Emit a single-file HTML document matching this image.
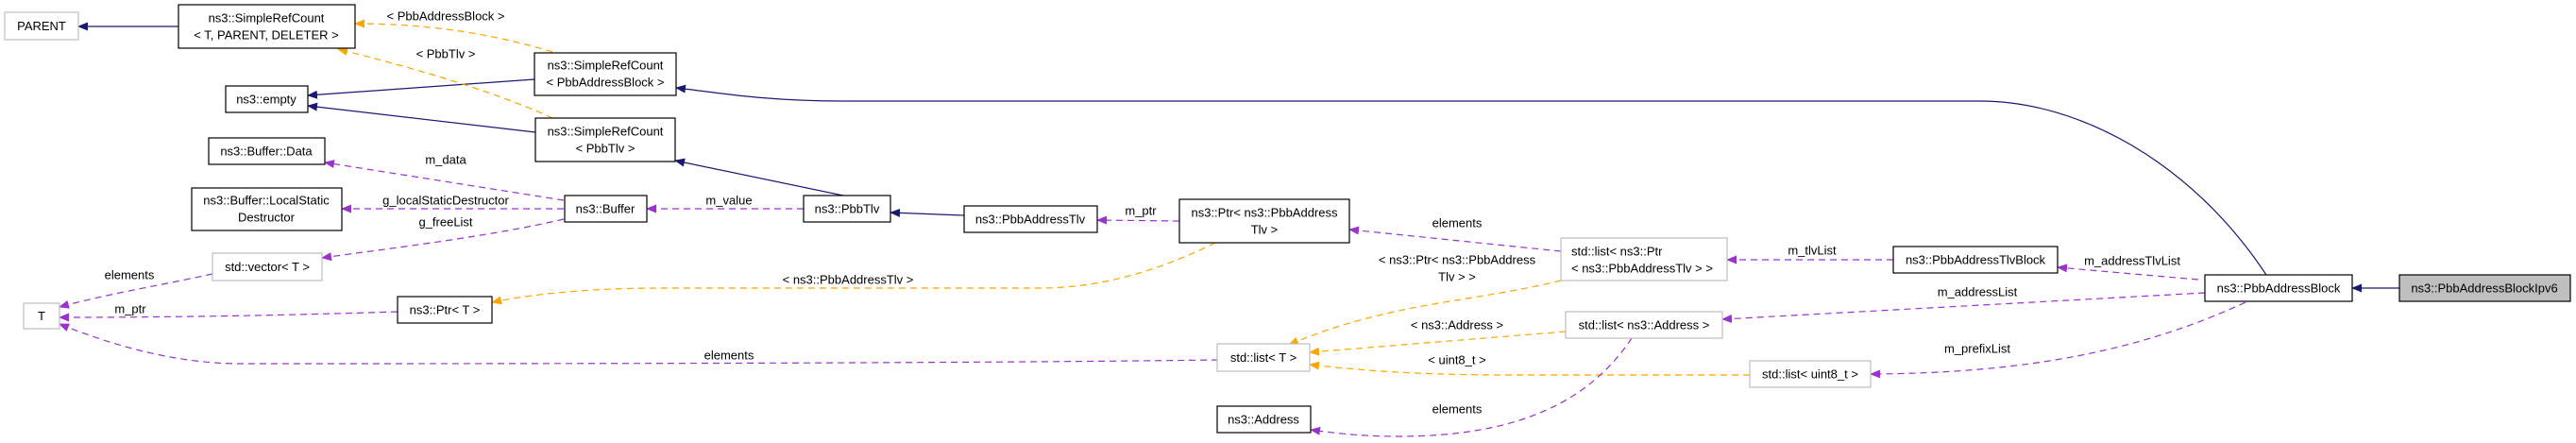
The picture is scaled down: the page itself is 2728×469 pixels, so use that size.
<!DOCTYPE html>
<html><head><meta charset="utf-8"><style>
html,body{margin:0;padding:0;background:#fff;}
svg{display:block;}
text{font-family:"Liberation Sans",sans-serif;font-size:13px;fill:#000;}
</style></head><body>
<svg width="2728" height="469" viewBox="0 0 2728 469" xmlns="http://www.w3.org/2000/svg">
<defs>
<marker id="an" markerWidth="11" markerHeight="9" refX="10" refY="4.5" orient="auto" markerUnits="userSpaceOnUse"><path d="M0,0 L11,4.5 L0,9 Z" fill="#191970"/></marker>
<marker id="ap" markerWidth="11" markerHeight="9" refX="10" refY="4.5" orient="auto" markerUnits="userSpaceOnUse"><path d="M0,0 L11,4.5 L0,9 Z" fill="#9a32cd"/></marker>
<marker id="ao" markerWidth="11" markerHeight="9" refX="10" refY="4.5" orient="auto" markerUnits="userSpaceOnUse"><path d="M0,0 L11,4.5 L0,9 Z" fill="#ffa500"/></marker>
</defs>
<g fill="none" stroke-width="1.2">
<!-- navy inheritance -->
<g stroke="#191970" marker-end="url(#an)">
<path d="M189,28 L83,28"/>
<path d="M566,84 L326,101"/>
<path d="M567,140 L326,112"/>
<path d="M893,207 L715,170"/>
<path d="M1021,228 L943,225"/>
<path d="M2400,291 C2320,170 2200,107 2097,107 L890,107 C810,107 760,98 716,93"/>
<path d="M2541,305 L2491,305"/>
</g>
<!-- orange template -->
<g stroke="#ffa500" stroke-dasharray="7,5" marker-end="url(#ao)">
<path d="M585,55 C520,35 450,25 376,25"/>
<path d="M585,125 C520,95 430,70 358,52"/>
<path d="M1287,257 C1220,290 1160,305 1100,305 L700,305 C620,305 560,312 521,320"/>
<path d="M1653,297 C1560,320 1470,320 1365,365"/>
<path d="M1658,351 L1387,373"/>
<path d="M1853,397 L1600,397 C1500,397 1440,392 1387,386"/>
</g>
<!-- purple usage -->
<g stroke="#9a32cd" stroke-dasharray="7,5" marker-end="url(#ap)">
<path d="M851,221 L685,221"/>
<path d="M597,212 L344,172"/>
<path d="M597,221 L362,221"/>
<path d="M597,232 C520,250 420,262 341,273"/>
<path d="M225,290 C170,302 110,312 63,325"/>
<path d="M421,330 C300,334 180,336 63,336"/>
<path d="M1290,381 C1000,385 500,385 255,385 C180,385 110,362 63,343"/>
<path d="M1249,234 L1162,233"/>
<path d="M1653,266 L1429,243"/>
<path d="M1728,358 C1680,430 1600,462 1480,462 C1440,462 1410,458 1388,455"/>
<path d="M2005,275 L1829,275"/>
<path d="M2328,296 L2179,283"/>
<path d="M2335,310 L1824,338"/>
<path d="M2378,320 C2270,370 2150,395 1981,396"/>
</g>
</g>
<!-- boxes -->
<g stroke-width="1.2">
<rect x="5" y="13" width="78" height="29" fill="#fff" stroke="#bfbfbf"/>
<rect x="189" y="5" width="187" height="46" fill="#fff" stroke="#000"/>
<rect x="239" y="91" width="87" height="28" fill="#fff" stroke="#000"/>
<rect x="566" y="56" width="150" height="45" fill="#fff" stroke="#000"/>
<rect x="567" y="125" width="148" height="46" fill="#fff" stroke="#000"/>
<rect x="221" y="146" width="123" height="28" fill="#fff" stroke="#000"/>
<rect x="203" y="199" width="159" height="45" fill="#fff" stroke="#000"/>
<rect x="598" y="207" width="87" height="28" fill="#fff" stroke="#000"/>
<rect x="225" y="268" width="116" height="29" fill="#fff" stroke="#bfbfbf"/>
<rect x="25" y="321" width="38" height="27" fill="#fff" stroke="#bfbfbf"/>
<rect x="421" y="314" width="100" height="28" fill="#fff" stroke="#000"/>
<rect x="851" y="207" width="92" height="28" fill="#fff" stroke="#000"/>
<rect x="1021" y="218" width="141" height="28" fill="#fff" stroke="#000"/>
<rect x="1249" y="211" width="180" height="46" fill="#fff" stroke="#000"/>
<rect x="1289" y="364" width="98" height="29" fill="#fff" stroke="#bfbfbf"/>
<rect x="1289" y="430" width="99" height="28" fill="#fff" stroke="#000"/>
<rect x="1653" y="252" width="176" height="45" fill="#fff" stroke="#bfbfbf"/>
<rect x="1658" y="330" width="166" height="28" fill="#fff" stroke="#bfbfbf"/>
<rect x="1853" y="382" width="128" height="28" fill="#fff" stroke="#bfbfbf"/>
<rect x="2005" y="261" width="174" height="28" fill="#fff" stroke="#000"/>
<rect x="2335" y="291" width="156" height="28" fill="#fff" stroke="#000"/>
<rect x="2541" y="291" width="181" height="28" fill="#bfbfbf" stroke="#000"/>
</g>
<!-- box text -->
<g text-anchor="middle" dominant-baseline="central">
<text x="44" y="27.5">PARENT</text>
<text x="282" y="19">ns3::SimpleRefCount</text>
<text x="282" y="37">&lt; T, PARENT, DELETER &gt;</text>
<text x="282" y="105">ns3::empty</text>
<text x="641" y="69">ns3::SimpleRefCount</text>
<text x="641" y="87">&lt; PbbAddressBlock &gt;</text>
<text x="641" y="139">ns3::SimpleRefCount</text>
<text x="641" y="157">&lt; PbbTlv &gt;</text>
<text x="282" y="160">ns3::Buffer::Data</text>
<text x="282" y="212">ns3::Buffer::LocalStatic</text>
<text x="282" y="230">Destructor</text>
<text x="641" y="221">ns3::Buffer</text>
<text x="283" y="282.5">std::vector&lt; T &gt;</text>
<text x="44" y="334.5">T</text>
<text x="471" y="328">ns3::Ptr&lt; T &gt;</text>
<text x="897" y="221">ns3::PbbTlv</text>
<text x="1091" y="232">ns3::PbbAddressTlv</text>
<text x="1339" y="225">ns3::Ptr&lt; ns3::PbbAddress</text>
<text x="1339" y="243">Tlv &gt;</text>
<text x="1338" y="378.5">std::list&lt; T &gt;</text>
<text x="1338" y="444">ns3::Address</text>
<text x="1741" y="344">std::list&lt; ns3::Address &gt;</text>
<text x="1917" y="396">std::list&lt; uint8_t &gt;</text>
<text x="2092" y="275">ns3::PbbAddressTlvBlock</text>
<text x="2413" y="305">ns3::PbbAddressBlock</text>
<text x="2631" y="305">ns3::PbbAddressBlockIpv6</text>
</g>
<g dominant-baseline="central">
<text x="1664" y="266">std::list&lt; ns3::Ptr</text>
<text x="1664" y="284">&lt; ns3::PbbAddressTlv &gt; &gt;</text>
</g>
<!-- edge labels -->
<g text-anchor="middle" dominant-baseline="central">
<text x="472" y="17">&lt; PbbAddressBlock &gt;</text>
<text x="472" y="57">&lt; PbbTlv &gt;</text>
<text x="472" y="169">m_data</text>
<text x="472" y="212">g_localStaticDestructor</text>
<text x="472" y="235">g_freeList</text>
<text x="772" y="212">m_value</text>
<text x="137" y="291">elements</text>
<text x="138" y="327">m_ptr</text>
<text x="898" y="296">&lt; ns3::PbbAddressTlv &gt;</text>
<text x="772" y="376">elements</text>
<text x="1208" y="223">m_ptr</text>
<text x="1543" y="236">elements</text>
<text x="1543" y="275">&lt; ns3::Ptr&lt; ns3::PbbAddress</text>
<text x="1543" y="293">Tlv &gt; &gt;</text>
<text x="1543" y="344">&lt; ns3::Address &gt;</text>
<text x="1543" y="381">&lt; uint8_t &gt;</text>
<text x="1543" y="433">elements</text>
<text x="1919" y="265">m_tlvList</text>
<text x="2258" y="276">m_addressTlvList</text>
<text x="2094" y="309">m_addressList</text>
<text x="2094" y="369">m_prefixList</text>
</g>
</svg>
</body></html>
